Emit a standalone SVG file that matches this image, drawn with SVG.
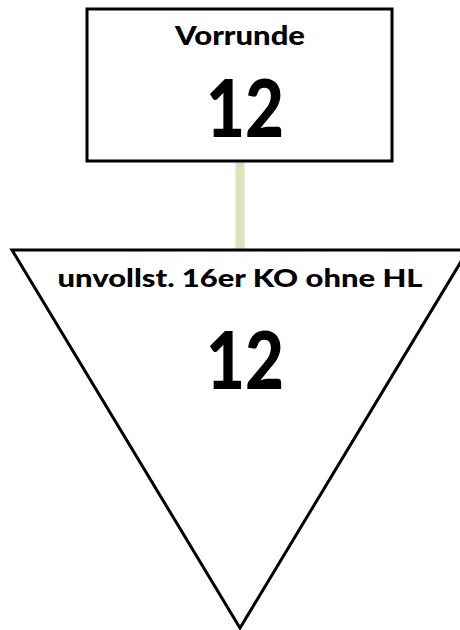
<svg xmlns="http://www.w3.org/2000/svg" width="460" height="630" viewBox="0 0 460 630">
<style>
.shape{fill:#fff;stroke:#000;stroke-width:3}
.t{font-family:Lato,"Liberation Sans",sans-serif;font-weight:900;fill:#000;text-anchor:middle}
.conn{stroke:#d7e4bd;stroke-width:9;fill:none}
</style>
<rect width="460" height="630" fill="#fff"/>
<g id="connectors">
<line class="conn" x1="240" y1="161" x2="240" y2="250"/>
</g>
<g id="vorrunde">
<rect class="shape" x="87" y="9" width="305" height="152"/>
<text class="t" x="240" y="45" font-size="27" textLength="130" lengthAdjust="spacingAndGlyphs">Vorrunde</text>
<text class="t" x="245" y="137" font-size="80" textLength="78" lengthAdjust="spacingAndGlyphs">12</text>
</g>
<g id="ko">
<polygon class="shape" points="12,250 468,250 240,628"/>
<text class="t" x="240" y="287" font-size="24" textLength="365" lengthAdjust="spacingAndGlyphs">unvollst. 16er KO ohne HL</text>
<text class="t" x="245" y="389" font-size="80" textLength="78" lengthAdjust="spacingAndGlyphs">12</text>
</g>
</svg>
